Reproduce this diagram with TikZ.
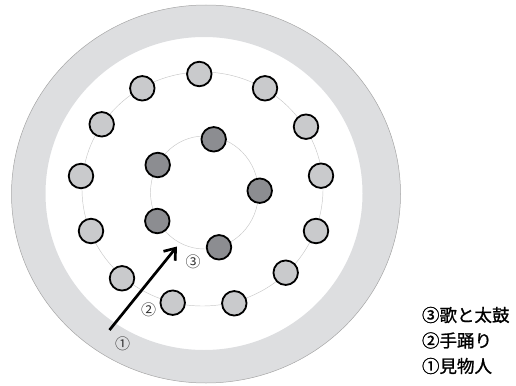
\documentclass[tikz,border=0pt]{standalone}
\usepackage{fontspec}
\setmainfont{Noto Sans CJK JP}
\newfontfamily\legendfont[FakeBold=1.2]{Noto Sans CJK JP}
\usetikzlibrary{arrows.meta}
\definecolor{ringgray}{RGB}{221,222,224}
\definecolor{dancergray}{RGB}{201,202,204}
\definecolor{singergray}{RGB}{140,141,145}

\begin{document}
\begin{tikzpicture}[x=1pt,y=-1pt,every node/.style={inner sep=0pt,outer sep=0pt}]

	\tikzstyle{dancer}=[circle,draw=black,line width=1.8pt,fill=dancergray,minimum size=24.5pt]
	\tikzstyle{singer}=[dancer,fill=singergray]
	\tikzstyle{track}=[draw=black!22,line width=0.45pt]
	\tikzstyle{numlabel}=[font=\fontsize{15}{15}\selectfont,text=black!80]
	\tikzstyle{legend}=[anchor=west,font=\legendfont\fontsize{17.5}{18}\selectfont]

	\useasboundingbox (0,0) rectangle (516,385);

	% audience ring
	\fill[ringgray,even odd rule] (206,194) ellipse (194.5pt and 189pt) (204,193.5) ellipse (158.5pt and 156.5pt);
	\draw[black!35,line width=0.5pt] (206,194) ellipse (194.5pt and 189pt);

	\draw[track] (202.5,189) ellipse (120.5pt and 117pt);
	\draw[track] (204.5,192.5) ellipse (54pt and 56.5pt);

	% dancers
	\foreach \px/\py [count=\i] in {199.3/74, 265/88.3, 306/126.7, 321/175.7, 316/231,
		285.7/272.7, 234.3/303.3, 172.7/302.7, 122/278.3, 91/231, 81/176, 101.7/124.3, 142.3/88.3}
		\node (d\i) at (\px,\py) [dancer] {};

	% singers and drummers
	\foreach \px/\py [count=\i] in {213.7/139.3, 157.7/165, 259.7/190.7, 157.3/221, 219/247.3}
		\node (s\i) at (\px,\py) [singer] {};

	\coordinate (entry) at (109.5,330);
	\coordinate (inner) at (177,246.5);
	\draw[-{Straight Barb[length=10pt,width=15pt]},line width=2.7pt] (entry) -- (inner);

	\node (m3) at (193,262) [numlabel] {③};
	\node (m2) at (148.5,309.5) [numlabel] {②};
	\node (m1) at (122.5,343.5) [numlabel] {①};

	\node (l3) at (422,315) [legend] {③歌と太鼓};
	\node (l2) at (422,340.5) [legend] {②手踊り};
	\node (l1) at (422,366) [legend] {①見物人};

\end{tikzpicture}
\end{document}
